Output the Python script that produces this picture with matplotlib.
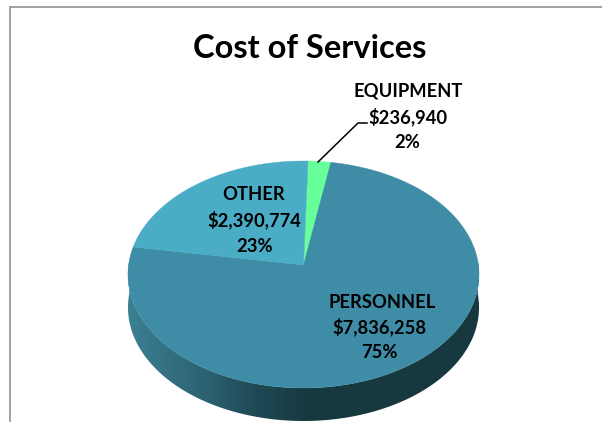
import numpy as np
import matplotlib
matplotlib.use("Agg")
import matplotlib.pyplot as plt
from matplotlib.colors import LinearSegmentedColormap
from matplotlib.patches import Polygon

categories = ["EQUIPMENT", "PERSONNEL", "OTHER"]
costs = [236940, 7836258, 2390774]
slice_colors = ["#66FF99", "#3E8CA6", "#4BACC6"]

title = "Cost of Services"
wall_colors = ["#3C7F93", "#2C6272", "#1F4A56", "#17383F", "#17383F"]
wall_stops = [0.0, 0.22, 0.36, 0.52, 1.0]

plt.rcParams["font.family"] = ["Lato", "DejaVu Sans"]

# tilted disc: apex position, radius and perspective of the top face
cx, cy = 303.5, 265.0
radius = 174.9
reach = 112.7
persp = -0.0837
depth = 33
start_deg = 1.6


def rim(deg):
    # deg runs clockwise from the back of the disc
    t = np.radians(deg)
    vx, vy = np.sin(t), -np.cos(t)
    w = 1 + persp * vy
    return np.column_stack([cx + radius * vx / w, cy + reach * vy / w])


fig = plt.figure(figsize=(6.02, 4.22), dpi=100)
ax = fig.add_axes([0, 0, 1, 1])
ax.set_xlim(0, 602)
ax.set_ylim(422, 0)
ax.axis("off")

# outer frame, only the top and left edges show
ax.plot([10, 10, 602], [422, 7, 7], color="#A0A0A0", lw=1.4, solid_joinstyle="miter")

# side wall with its left to right shading
front = rim(np.linspace(88, 272, 200))
lower = front + [0, depth]
wall = Polygon(np.vstack([front, lower[::-1]]), closed=True, fc="none", ec="none")
ax.add_patch(wall)
cmap = LinearSegmentedColormap.from_list("wall", list(zip(wall_stops, wall_colors)))
shade = ax.imshow(np.linspace(0, 1, 400).reshape(1, -1), cmap=cmap, aspect="auto",
                  extent=[cx - radius - 2, cx + radius + 2, 422, 260], zorder=1)
shade.set_clip_path(wall)
ax.set_xlim(0, 602)
ax.set_ylim(422, 0)

# top face slices
shares = np.array(costs) / sum(costs)
edges = start_deg + 360 * np.concatenate([[0], np.cumsum(shares)])
for i in range(len(costs)):
    arc = rim(np.linspace(edges[i], edges[i + 1], 200))
    pts = np.vstack([[cx, cy], arc])
    ax.add_patch(Polygon(pts, closed=True, fc=slice_colors[i], ec=slice_colors[i],
                         lw=0.3, zorder=2))

ax.text(309.5, 48, title, fontsize=23.5, fontweight="bold", ha="center", va="center", zorder=4)

# data labels, one text per line
label_pos = {
    "EQUIPMENT": [(408, 91), (408, 117), (407, 143)],
    "PERSONNEL": [(382, 302), (379, 327), (379, 352)],
    "OTHER": [(254, 194), (254, 220), (255, 246)],
}
for name, cost, share in zip(categories, costs, shares):
    lines = [name, f"${cost:,}", f"{share * 100:.0f}%"]
    for line, (x, y) in zip(lines, label_pos[name]):
        ax.text(x, y, line, fontsize=13.2, fontweight="bold", ha="center", va="center", zorder=4)

# leader line for the small slice
ax.plot([318, 358, 367], [162, 123, 123], color="black", lw=1.1, zorder=3)

fig.savefig("out.png", dpi=100)
